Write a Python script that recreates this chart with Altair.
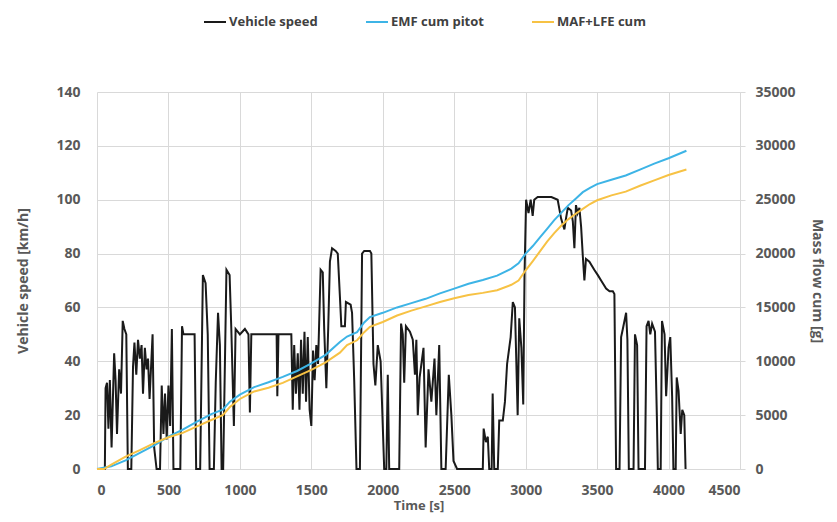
import altair as alt
import pandas as pd

# ---- data ----
speed_t = [0, 55, 60, 70, 80, 90, 102, 120, 130, 140, 155, 168, 180, 192, 205, 216, 240, 252, 262, 275,
           287, 300, 312, 322, 335, 347, 357, 368, 389, 400, 417, 441, 453, 465, 476, 488, 500, 512, 524, 535,
           583, 595, 605, 683, 694, 722, 741, 760, 775, 788, 818, 831, 847, 860, 872, 883, 906, 928, 940, 958,
           970, 1000, 1035, 1060, 1070, 1080, 1257, 1262, 1270, 1360, 1370, 1380, 1392, 1405, 1417, 1428, 1440, 1452, 1463, 1475,
           1488, 1500, 1512, 1523, 1535, 1547, 1565, 1580, 1590, 1605, 1618, 1630, 1645, 1670, 1685, 1700, 1710, 1735, 1742, 1775,
           1785, 1800, 1816, 1840, 1855, 1870, 1910, 1920, 1935, 1948, 1965, 1985, 2010, 2025, 2035, 2045, 2115, 2128, 2140, 2150,
           2162, 2190, 2210, 2225, 2235, 2245, 2258, 2285, 2300, 2320, 2340, 2362, 2375, 2395, 2410, 2440, 2462, 2480, 2495, 2520,
           2700, 2706, 2722, 2735, 2745, 2762, 2769, 2780, 2805, 2815, 2840, 2855, 2870, 2885, 2895, 2910, 2925, 2944, 2955, 2970,
           2983, 2992, 3003, 3020, 3035, 3049, 3060, 3084, 3180, 3224, 3248, 3271, 3282, 3295, 3318, 3330, 3341, 3352, 3364, 3376,
           3388, 3400, 3411, 3422, 3446, 3480, 3505, 3528, 3563, 3587, 3610, 3621, 3633, 3657, 3668, 3680, 3703, 3712, 3722, 3755,
           3765, 3780, 3790, 3835, 3846, 3860, 3872, 3885, 3905, 3918, 3925, 3945, 3954, 3972, 3983, 4000, 4012, 4025, 4034, 4050,
           4057, 4070, 4085, 4096, 4110, 4119]
speed_v = [0, 0, 30, 32, 15, 33, 8, 43, 33, 13, 37, 28, 55, 52, 50, 0, 0, 38, 47, 35,
           48, 41, 46, 28, 45, 37, 41, 26, 50, 8, 0, 0, 31, 13, 28, 11, 31, 16, 52, 0,
           0, 53, 50, 50, 0, 0, 72, 69, 50, 0, 0, 32, 58, 46, 0, 0, 74, 72, 52, 16,
           52, 50, 52, 50, 21, 50, 50, 27, 50, 50, 22, 46, 28, 43, 22, 48, 28, 51, 25, 49,
           22, 16, 44, 33, 46, 39, 74, 73, 52, 30, 52, 77, 82, 81, 80, 64, 53, 53, 62, 61,
           58, 33, 0, 0, 80, 81, 81, 80, 39, 31, 46, 40, 0, 0, 35, 0, 0, 54, 50, 32,
           53, 51, 48, 35, 48, 20, 34, 45, 8, 37, 25, 41, 20, 46, 0, 0, 35, 20, 3, 0,
           0, 15, 10, 12, 0, 0, 28, 0, 0, 18, 18, 25, 39, 45, 49, 62, 60, 20, 56, 45,
           24, 72, 100, 95, 100, 94, 100, 101, 101, 100, 93, 89, 93, 97, 96, 92, 82, 98, 95, 97,
           90, 79, 70, 78, 77, 74, 72, 70, 67, 66, 66, 65, 0, 0, 49, 52, 58, 48, 0, 0,
           50, 46, 0, 0, 53, 55, 50, 54, 51, 20, 0, 0, 55, 50, 27, 45, 49, 27, 0, 0,
           34, 29, 13, 22, 20, 0]

emf_t = [0, 100, 200, 300, 400, 500, 600, 700, 800, 880, 930, 1000, 1100, 1200, 1300, 1400, 1500, 1600, 1700, 1750,
         1820, 1870, 1910, 2000, 2100, 2200, 2300, 2400, 2500, 2600, 2700, 2800, 2900, 2950, 3000, 3050, 3100, 3150, 3200, 3250,
         3300, 3350, 3400, 3450, 3500, 3600, 3700, 3800, 3900, 4000, 4125]
emf_v = [0, 250, 800, 1500, 2200, 3000, 3650, 4400, 5100, 5500, 6250, 6900, 7600, 8050, 8550, 9100, 9800, 10600, 11800, 12300,
         12700, 13600, 14100, 14500, 15000, 15400, 15800, 16300, 16750, 17200, 17550, 17950, 18600, 19100, 20000, 20700, 21500, 22300, 23100, 23800,
         24500, 25100, 25700, 26100, 26450, 26850, 27250, 27800, 28350, 28850, 29550]

maf_t = [0, 50, 100, 200, 300, 400, 500, 600, 700, 800, 880, 930, 1000, 1100, 1200, 1300, 1400, 1500, 1600, 1700,
         1750, 1820, 1870, 1910, 2000, 2100, 2200, 2300, 2400, 2500, 2600, 2700, 2800, 2900, 2950, 3000, 3050, 3100, 3150, 3200,
         3250, 3300, 3350, 3400, 3450, 3500, 3600, 3700, 3800, 3900, 4000, 4125]
maf_v = [0, 0, 400, 1150, 1750, 2400, 2950, 3350, 3950, 4550, 5000, 5750, 6500, 7200, 7550, 8000, 8600, 9200, 9900, 10800,
         11500, 11950, 12700, 13200, 13650, 14250, 14700, 15100, 15500, 15850, 16150, 16350, 16600, 17100, 17500, 18450, 19300, 20200, 21100, 21900,
         22600, 23200, 23700, 24150, 24600, 24950, 25400, 25750, 26300, 26800, 27300, 27800]

series_names = ["Vehicle speed", "EMF cum pitot", "MAF+LFE cum"]
series_colors = ["#1a1a1a", "#3db4e6", "#f7c244"]

x_ticks = list(range(0, 4501, 500))
left_ticks = list(range(0, 141, 20))
right_ticks = list(range(0, 35001, 5000))

speed_df = pd.DataFrame({"t": speed_t, "v": speed_v, "series": series_names[0]})
cum_df = pd.concat([
    pd.DataFrame({"t": emf_t, "v": emf_v, "series": series_names[1]}),
    pd.DataFrame({"t": maf_t, "v": maf_v, "series": series_names[2]}),
])

FONT = "Open Sans"
GREY = "#595959"

color = alt.Color(
    "series:N",
    scale=alt.Scale(domain=series_names, range=series_colors),
    legend=alt.Legend(
        title=None, orient="none", legendX=106, legendY=-82, direction="horizontal",
        symbolType="stroke", symbolSize=484, symbolStrokeWidth=2,
        labelFont=FONT, labelFontSize=13, labelFontWeight="bold", labelColor="#404040",
        labelOffset=2, columnPadding=44,
    ),
)

x = alt.X(
    "t:Q",
    scale=alt.Scale(domain=[0, 4500], nice=False),
    axis=alt.Axis(values=x_ticks, title="Time [s]", grid=True, ticks=False, format="d",
                  domain=True, labelPadding=14, titlePadding=2, titleFontSize=13),
)

speed = alt.Chart(speed_df).mark_line(strokeWidth=2, interpolate="linear").encode(
    x=x,
    y=alt.Y("v:Q", scale=alt.Scale(domain=[0, 140], nice=False),
            axis=alt.Axis(values=left_ticks, title="Vehicle speed [km/h]", grid=True,
                          ticks=False, domain=False, labelPadding=17, titlePadding=25)),
    color=color,
    order="t:Q",
)

cum = alt.Chart(cum_df).mark_line(strokeWidth=2).encode(
    x=x,
    y=alt.Y("v:Q", scale=alt.Scale(domain=[0, 35000], nice=False),
            axis=alt.Axis(values=right_ticks, orient="right", title="Mass flow cum [g]",
                          grid=False, ticks=True, tickSize=5, domain=True,
                          labelPadding=10, titlePadding=14, format="d")),
    color=color,
    order="t:Q",
)

chart = alt.layer(speed, cum).resolve_scale(y="independent").properties(
    width=643, height=377,
    autosize=alt.AutoSizeParams(type="none"),
    padding={"left": 89, "top": 84, "right": 89, "bottom": 45},
).configure_view(stroke=None).configure_axis(
    labelFont=FONT, labelFontSize=14, labelFontWeight="bold", labelColor=GREY,
    titleFont=FONT, titleFontSize=14, titleFontWeight="bold", titleColor=GREY,
    gridColor="#d9d9d9", domainColor="#d9d9d9", tickColor="#d9d9d9", gridWidth=1,
)

chart.save("out.html", embed_options={"renderer": "svg", "actions": False})
